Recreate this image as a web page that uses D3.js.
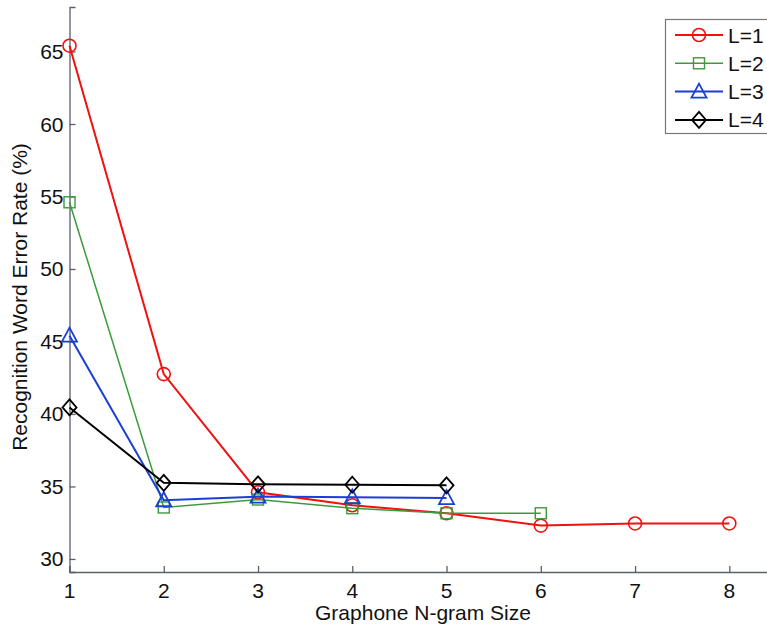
<!DOCTYPE html>
<html>
<head>
<meta charset="utf-8">
<script src="https://cdnjs.cloudflare.com/ajax/libs/d3/7.8.5/d3.min.js"></script>
<style>
  body { margin: 0; background: #fff; }
  text { font-family: "Liberation Sans", Arial, sans-serif; fill: #111; }
</style>
</head>
<body>
<div id="plot"></div>
<script>
// values
const ngram = [1, 2, 3, 4, 5, 6, 7, 8];
const yTicks = [30, 35, 40, 45, 50, 55, 60, 65];
const L1 = [65.4, 42.75, 34.6, 33.7, 33.15, 32.3, 32.45, 32.45];
const L2 = [54.6, 33.55, 34.1, 33.5, 33.15, 33.15];
const L3 = [45.4, 34.05, 34.3, 34.25, 34.2];
const L4 = [40.45, 35.25, 35.15, 35.12, 35.08];
const names = ["L=1", "L=2", "L=3", "L=4"];

const w = 767;
const h = 630;

const series = [
  { name: names[0], vals: L1, color: "#f01010", width: 2, marker: "circle" },
  { name: names[1], vals: L2, color: "#3c9a3c", width: 1.5, marker: "square" },
  { name: names[2], vals: L3, color: "#1a3fd6", width: 2, marker: "triangle" },
  { name: names[3], vals: L4, color: "#000000", width: 2, marker: "diamond" }
];

const x = d3.scaleLinear().domain([1, 8.45]).range([69.5, 69.5 + 7.45 * 94.26]);
const y = d3.scaleLinear().domain([29.1, 68.07]).range([572, 7]);

const svg = d3.select("#plot").append("svg")
  .attr("width", w)
  .attr("height", h);

// axes, ticks pointing inward like matlab
const xAxis = svg.append("g")
  .attr("transform", "translate(0,572)")
  .call(d3.axisTop(x).tickValues(ngram).tickSize(6).tickFormat(""));
const yAxis = svg.append("g")
  .attr("transform", "translate(69.5,0)")
  .call(d3.axisRight(y).tickValues(yTicks).tickSize(6).tickFormat(""));
[xAxis, yAxis].forEach(a => {
  a.selectAll("path, line").attr("stroke", "#5a5f6a").attr("stroke-width", 1.3);
});

svg.selectAll(".xlab")
  .data(ngram)
  .enter()
  .append("text")
  .attr("x", d => x(d))
  .attr("y", 598)
  .attr("text-anchor", "middle")
  .style("font-size", "21px")
  .text(d => d);

svg.selectAll(".ylab")
  .data(yTicks)
  .enter()
  .append("text")
  .attr("x", 63.5)
  .attr("y", d => y(d) + 7.5)
  .attr("text-anchor", "end")
  .style("font-size", "21px")
  .text(d => d);

svg.append("text")
  .attr("x", 423)
  .attr("y", 620)
  .attr("text-anchor", "middle")
  .style("font-size", "21px")
  .text("Graphone N-gram Size");

svg.append("text")
  .attr("transform", "translate(27,297) rotate(-90)")
  .attr("text-anchor", "middle")
  .style("font-size", "21px")
  .text("Recognition Word Error Rate (%)");

function drawMarker(g, type, cx, cy, color) {
  if (type === "circle") {
    g.append("circle").attr("cx", cx).attr("cy", cy).attr("r", 6.5)
      .attr("fill", "none").attr("stroke", color).attr("stroke-width", 1.6);
  } else if (type === "square") {
    g.append("rect").attr("x", cx - 5.5).attr("y", cy - 5.5)
      .attr("width", 11).attr("height", 11)
      .attr("fill", "none").attr("stroke", color).attr("stroke-width", 1.4);
  } else if (type === "triangle") {
    g.append("path")
      .attr("d", `M${cx},${cy - 8}L${cx + 7.5},${cy + 6}L${cx - 7.5},${cy + 6}Z`)
      .attr("fill", "none").attr("stroke", color).attr("stroke-width", 1.8);
  } else {
    g.append("path")
      .attr("d", `M${cx},${cy - 8}L${cx + 7},${cy}L${cx},${cy + 8}L${cx - 7},${cy}Z`)
      .attr("fill", "none").attr("stroke", color).attr("stroke-width", 1.8);
  }
}

const line = d3.line().x((d, i) => x(ngram[i])).y(d => y(d));

series.forEach(s => {
  const g = svg.append("g");
  g.append("path")
    .attr("d", line(s.vals))
    .attr("fill", "none")
    .attr("stroke", s.color)
    .attr("stroke-width", s.width);
  s.vals.forEach((v, i) => drawMarker(g, s.marker, x(ngram[i]), y(v), s.color));
});

// legend
const leg = svg.append("g");
leg.append("rect")
  .attr("x", 665.5).attr("y", 19.5)
  .attr("width", 130).attr("height", 114)
  .attr("fill", "#fff")
  .attr("stroke", "#777")
  .attr("stroke-width", 1.2);
series.forEach((s, i) => {
  const ly = 35 + i * 28.3;
  leg.append("line")
    .attr("x1", 675).attr("x2", 723)
    .attr("y1", ly).attr("y2", ly)
    .attr("stroke", s.color)
    .attr("stroke-width", s.width);
  drawMarker(leg, s.marker, 699, ly, s.color);
  leg.append("text")
    .attr("x", 728)
    .attr("y", ly + 7.5)
    .style("font-size", "21px")
    .text(s.name);
});
</script>
</body>
</html>
